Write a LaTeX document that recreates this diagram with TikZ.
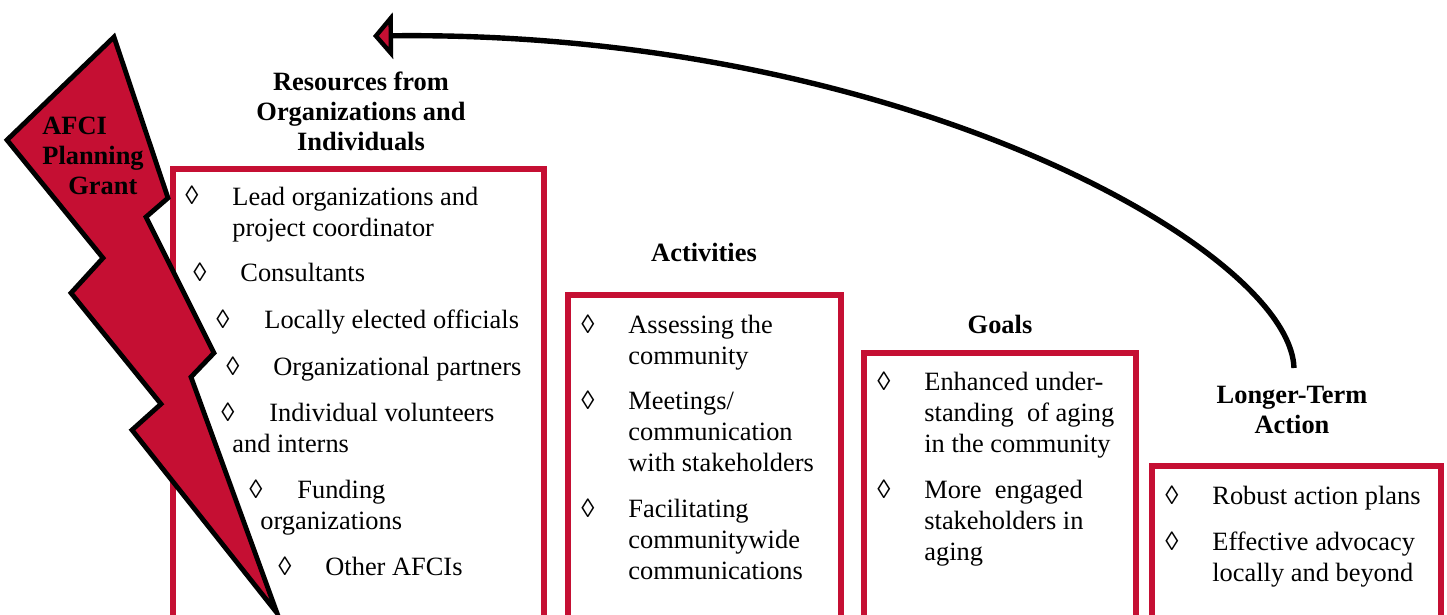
\documentclass[tikz,border=0pt]{standalone}
\usepackage{fontspec}
\setmainfont{Liberation Serif}
\usepackage{tikz}
\usetikzlibrary{arrows.meta}
\definecolor{afcired}{HTML}{C50F33}

\begin{document}
\begin{tikzpicture}[x=0.5pt,y=-0.5pt,font=\fontsize{13.2}{15.5}\selectfont,
 frame/.style={draw=afcired,line width=3pt,anchor=north west,inner sep=0pt,minimum height=200pt},
 head/.style={font=\fontsize{13.2}{15}\selectfont\bfseries,align=center,anchor=base,inner sep=0pt},
 itm/.style={anchor=base west,align=left,inner sep=0pt},
 dm/.style={anchor=base west,inner sep=0pt},
 bolt/.style={fill=afcired,draw=black,line width=2.4pt,line join=miter}]
\useasboundingbox (0,0) rectangle (1447,615);

\node[frame,minimum width=185.5pt,minimum height=240pt](res) at (170,166){};
\node[frame,minimum width=136.5pt](act) at (565,292){};
\node[frame,minimum width=136pt](goal) at (861,350){};
\node[frame,minimum width=144.5pt](lta) at (1149,463){};

\draw[bolt](114,37)--(168,198)--(146,217)--(214,353)--(191,377)--(277,613)--(132,430)--(161,404)--(71,293)--(103,258)--(7,140)--cycle;
\node[anchor=base west,align=left,inner sep=0pt,font=\fontsize{13.2}{15.25}\selectfont\bfseries](grant) at (42,195){AFCI\\Planning\\\hspace*{13pt}Grant};

\node[head](reshead) at (361,151){Resources from\\Organizations and\\Individuals};
\node[head](acthead) at (704,261){Activities};
\node[head](goalhead) at (1000,333){Goals};
\node[head](ltahead) at (1292,433){Longer-Term\\Action};

\node[dm](d1) at (185,205){◊};
\node[itm](r1) at (232,236){Lead organizations and\\project coordinator};
\node[dm](d2) at (193,281){◊};
\node[itm](r2) at (240,281){Consultants};
\node[dm](d3) at (216,328){◊};
\node[itm](r3) at (264,328){Locally elected officials};
\node[dm](d4) at (226,375){◊};
\node[itm](r4) at (273,375){Organizational partners};
\node[dm](d5) at (221,421){◊};
\node[itm](r5) at (269,421){Individual volunteers};
\node[itm](r5b) at (232,452){and interns};
\node[dm](d6) at (249,498){◊};
\node[itm](r6) at (297,498){Funding};
\node[itm](r6b) at (260,529){organizations};
\node[dm](d7) at (278,575){◊};
\node[itm](r7) at (325,575){Other AFCIs};

\node[dm](d8) at (581,333){◊};
\node[itm](a1) at (628,364){Assessing the\\community};
\node[dm](d9) at (581,409){◊};
\node[itm](a2) at (628,471){Meetings/\\communication\\with stakeholders};
\node[dm](d10) at (581,517){◊};
\node[itm](a3) at (628,579){Facilitating\\communitywide\\communications};

\node[dm](d11) at (877,390){◊};
\node[itm](g1) at (924,452){Enhanced under-\\standing~ of aging\\in the community};
\node[dm](d12) at (877,498){◊};
\node[itm](g2) at (924,560){More~ engaged\\stakeholders in\\aging};

\node[dm](d13) at (1165,504){◊};
\node[itm](l1) at (1212,504){Robust action plans};
\node[dm](d14) at (1165,550){◊};
\node[itm](l2) at (1212,581){Effective advocacy\\locally and beyond};

\coordinate(loopstart) at (1294,368);
\coordinate(looptip) at (373,36);
\draw[line width=2.7pt,-{Triangle[length=10pt,width=23pt,line width=2.2pt,fill=afcired]}](loopstart)..controls(1290,250)and(900,30)..(looptip);

\end{tikzpicture}
\end{document}
